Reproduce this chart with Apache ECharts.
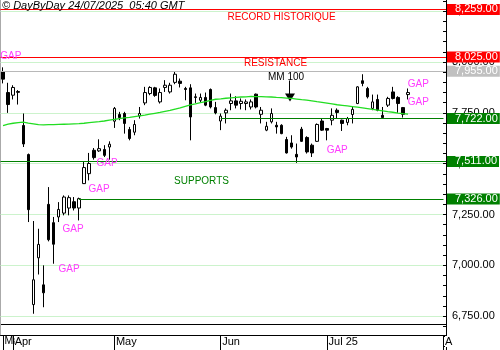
<!DOCTYPE html>
<html><head><meta charset="utf-8">
<script src="https://cdn.jsdelivr.net/npm/echarts@6/dist/echarts.min.js"></script>
<style>html,body{margin:0;padding:0;background:#fff}#c{width:500px;height:350px}</style>
</head><body><div id="c"></div>
<script>
// Trading days (Euronext) shown on the axis
const dates = [
'2025-03-28','2025-03-31',
'2025-04-01','2025-04-02','2025-04-03','2025-04-04','2025-04-07','2025-04-08','2025-04-09','2025-04-10','2025-04-11',
'2025-04-14','2025-04-15','2025-04-16','2025-04-17','2025-04-22','2025-04-23','2025-04-24','2025-04-25','2025-04-28','2025-04-29','2025-04-30',
'2025-05-02','2025-05-05','2025-05-06','2025-05-07','2025-05-08','2025-05-09','2025-05-12','2025-05-13','2025-05-14','2025-05-15','2025-05-16',
'2025-05-19','2025-05-20','2025-05-21','2025-05-22','2025-05-23','2025-05-26','2025-05-27','2025-05-28','2025-05-29','2025-05-30',
'2025-06-02','2025-06-03','2025-06-04','2025-06-05','2025-06-06','2025-06-09','2025-06-10','2025-06-11','2025-06-12','2025-06-13',
'2025-06-16','2025-06-17','2025-06-18','2025-06-19','2025-06-20','2025-06-23','2025-06-24','2025-06-25','2025-06-26','2025-06-27','2025-06-30',
'2025-07-01','2025-07-02','2025-07-03','2025-07-04','2025-07-07','2025-07-08','2025-07-09','2025-07-10','2025-07-11',
'2025-07-14','2025-07-15','2025-07-16','2025-07-17','2025-07-18','2025-07-21','2025-07-22','2025-07-23',
'2025-07-24','2025-07-25','2025-07-28','2025-07-29','2025-07-30','2025-07-31','2025-08-01'];

const open  = [7952,7850,7837,7855,7688,7545,6807,7037,6904,7300,7210,7238,7257,7282,7313,7282,7402,7451,7566,7563,7570,7582,
7709,7742,7747,7668,7655,7735,7799,7845,7873,7804,7875,7853,7900,7906,7870,7873,7829,7812,7826,7865,7776,
7710,7750,7796,7809,7796,7796,7779,7842,7743,7665,7706,7689,7689,7619,7602,7546,7670,7629,7591,7610,7710,
7673,7714,7763,7714,7703,7742,7796,7908,7870,7772,7816,7738,7788,7853,7826,7776,7840];
const close = [7916,7791,7875,7851,7597,7274,6929,7103,6865,7126,7104,7275,7336,7333,7282,7328,7481,7501,7530,7574,7541,7596,
7772,7727,7698,7624,7693,7747,7850,7875,7836,7850,7886,7886,7940,7895,7865,7730,7826,7826,7788,7779,7750,
7734,7763,7809,7788,7807,7804,7804,7779,7763,7684,7747,7681,7648,7553,7582,7533,7610,7558,7553,7693,7665,
7665,7738,7752,7698,7722,7767,7878,7895,7829,7804,7763,7727,7821,7821,7796,7743,7850];
const low   = [7895,7750,7816,7791,7582,7213,6762,6955,6794,7118,7008,7213,7246,7246,7270,7221,7400,7418,7520,7558,7533,7520,
7676,7714,7648,7615,7640,7722,7788,7837,7829,7796,7853,7845,7891,7875,7812,7615,7799,7799,7783,7772,7743,
7665,7698,7763,7772,7767,7763,7767,7772,7698,7660,7698,7648,7645,7550,7574,7504,7607,7550,7533,7607,7661,
7615,7689,7722,7661,7689,7698,7793,7881,7821,7763,7758,7727,7779,7816,7750,7727,7816];
const high  = [7974,7898,7886,7862,7747,7550,7218,7180,7000,7385,7238,7311,7344,7344,7336,7333,7508,7553,7577,7620,7591,7610,
7779,7755,7755,7681,7714,7779,7878,7881,7878,7870,7911,7898,7952,7919,7878,7891,7845,7845,7850,7870,7804,
7747,7772,7845,7832,7821,7816,7816,7845,7779,7706,7772,7706,7694,7632,7640,7599,7681,7635,7599,7698,7722,
7676,7772,7772,7717,7730,7779,7881,7940,7878,7840,7840,7779,7829,7878,7832,7779,7870];
// 100-day moving average (MM 100)
const ma100 = [7687,7695,7699,7702,7705,7700,7696,7692,7691,7692,7692,7693,7694,7695,7696,7697,7699,7702,7705,7707,7710,7714,
7718,7722,7725,7728,7732,7735,7739,7744,7748,7752,7757,7762,7769,7775,7782,7789,7794,7800,7805,7812,7817,
7819,7822,7824,7826,7828,7829,7831,7830,7830,7829,7828,7826,7825,7823,7821,7818,7815,7813,7809,7805,7802,
7798,7794,7790,7787,7784,7781,7778,7775,7771,7767,7764,7760,7756,7753,7749,7746,7744];

// Month tick labels (index into dates)
const tickIndex  = [0, 2, 22, 43, 64, 87];
const tickLabels = ['Mar', 'Apr', 'May', 'Jun', 'Jul 25', 'A'];

// Horizontal levels
const recordLevel = 8259;
const resistanceLevel = 8025;
const refLevel = 7955;
const supportLevels = [7722, 7511, 7326];
const supportStart  = [43, 0, 15];

const F = '"Liberation Sans", Arial, sans-serif';
const fmt = v => Number(v).toLocaleString('en-US', {minimumFractionDigits: 2, maximumFractionDigits: 2});

function boxLabel(v, bg, dist) {
  return {show: true, position: 'end', distance: dist, formatter: fmt(v), color: '#fff',
    backgroundColor: bg, padding: [0, 2, 0, 8], lineHeight: 11, fontSize: 11, fontFamily: F};
}
function fullLine(v, color, bg) {
  return {yAxis: v, lineStyle: {color: color, width: 1, type: 'solid'}, label: boxLabel(v, bg, 1)};
}
function partLine(v, start, color, bg) {
  return [{coord: [start, v], lineStyle: {color: color, width: 1, type: 'solid'}, label: boxLabel(v, bg, 3.5)},
          {coord: [dates.length - 1, v]}];
}

const mlData = [
  fullLine(recordLevel, '#ff0000', '#ff0000'),
  fullLine(resistanceLevel, '#ff0000', '#ff0000'),
  fullLine(refLevel, '#b8b8b8', '#c0c0c0')
];
supportLevels.forEach((v, i) => {
  if (supportStart[i] === 0) mlData.push(fullLine(v, '#008000', '#008000'));
  else mlData.push(partLine(v, supportStart[i], '#008000', '#008000'));
});

const candles = open.map((o, i) => [o, close[i], low[i], high[i]]);

function txt(t, x, y, color, size, style) {
  return {type: 'text', x: x, y: y, z: 100, silent: true,
    style: {text: t, fill: color, font: (style || '') + ' ' + size + 'px ' + F,
      align: 'center', textAlign: 'center', verticalAlign: 'middle', textVerticalAlign: 'middle'}};
}
const GAPC = '#ff3cff';

const chart = echarts.init(document.getElementById('c'), null, {renderer: 'canvas'});
chart.setOption({
  animation: false,
  backgroundColor: '#fff',
  grid: {left: 0.5, width: 445.5, top: -39.6, height: 406.6, containLabel: false, outerBoundsMode: 'none'},
  xAxis: {
    type: 'category', data: dates, boundaryGap: true, offset: -32,
    axisLine: {show: true, onZero: false, lineStyle: {color: '#000', width: 1}},
    axisTick: {show: true, alignWithLabel: true, length: 15, interval: i => tickIndex.includes(i), lineStyle: {color: '#000'}},
    axisLabel: {show: true, interval: 0, hideOverlap: false,
      formatter: (v, i) => {
        const k = tickIndex.indexOf(i);
        if (k < 0) return '';
        return k === 0 ? '{f|' + tickLabels[k] + '}' : '{w|' + tickLabels[k] + '}';
      },
      rich: {
        w: {backgroundColor: '#fff', fontSize: 11, fontFamily: F, color: '#000'},
        f: {fontSize: 10.5, fontFamily: F, color: '#000'}
      },
      align: 'left', margin: 1, padding: [0, 0, 0, 1.5], fontSize: 11, color: '#000', fontFamily: F},
    splitLine: {show: false}
  },
  yAxis: {
    type: 'value', position: 'right', min: 6500, max: 8500, interval: 250,
    axisLine: {show: true, lineStyle: {color: '#000', width: 1}},
    axisTick: {show: true, inside: true, length: 3, lineStyle: {color: '#000'}},
    minorTick: {show: true, splitNumber: 5, length: 3, lineStyle: {color: '#000'}},
    splitLine: {show: true, lineStyle: {color: '#ccf3cc', width: 1}},
    axisLabel: {margin: 6, color: '#000', fontSize: 11, fontFamily: F, formatter: fmt}
  },
  series: [
    {
      type: 'candlestick', data: candles, barWidth: 3, clip: false,
      itemStyle: {color: '#fff', color0: '#000', borderColor: '#000', borderColor0: '#000', borderWidth: 1},
      markLine: {silent: true, symbol: ['none', 'none'], animation: false, data: mlData}
    },
    {
      type: 'line', data: ma100, symbol: 'none', smooth: false, z: 3,
      lineStyle: {color: '#22dd22', width: 1.3}
    }
  ],
  graphic: [
    {type: 'line', silent: true, shape: {x1: 0, y1: 324.5, x2: 446, y2: 324.5}, style: {stroke: '#000', lineWidth: 1}},
    {type: 'line', silent: true, shape: {x1: 0.5, y1: 0, x2: 0.5, y2: 335}, style: {stroke: '#aaaaaa', lineWidth: 1}},
    {type: 'text', x: 2, y: 5.5, z: 100, silent: true,
      style: {text: '\u00a9 DayByDay 24/07/2025  05:40 GMT', fill: '#000', font: 'italic 11px ' + F,
        align: 'left', textAlign: 'left', verticalAlign: 'middle', textVerticalAlign: 'middle'}},
    txt('RECORD HISTORIQUE', 281.5, 16.8, '#ff0000', 10),
    txt('RESISTANCE', 275.5, 62.8, '#ff0000', 10),
    txt('MM 100', 286, 76.8, '#000', 10),
    txt('SUPPORTS', 201.5, 180.8, '#008000', 10),
    {type: 'line', silent: true, shape: {x1: 289.5, y1: 80.5, x2: 289.5, y2: 94}, style: {stroke: '#000', lineWidth: 1}},
    {type: 'polygon', silent: true, shape: {points: [[285, 93.5], [295, 93.5], [290, 101.5]]}, style: {fill: '#000'}},
    txt('GAP', 10.8, 56.5, GAPC, 10),
    txt('GAP', 107, 163, GAPC, 10),
    txt('GAP', 99, 189.7, GAPC, 10),
    txt('GAP', 73, 229.7, GAPC, 10),
    txt('GAP', 69, 268.8, GAPC, 10),
    txt('GAP', 337.2, 150, GAPC, 10),
    txt('GAP', 418.3, 84.2, GAPC, 10),
    txt('GAP', 418.3, 102.7, GAPC, 10)
  ]
});
</script></body></html>
